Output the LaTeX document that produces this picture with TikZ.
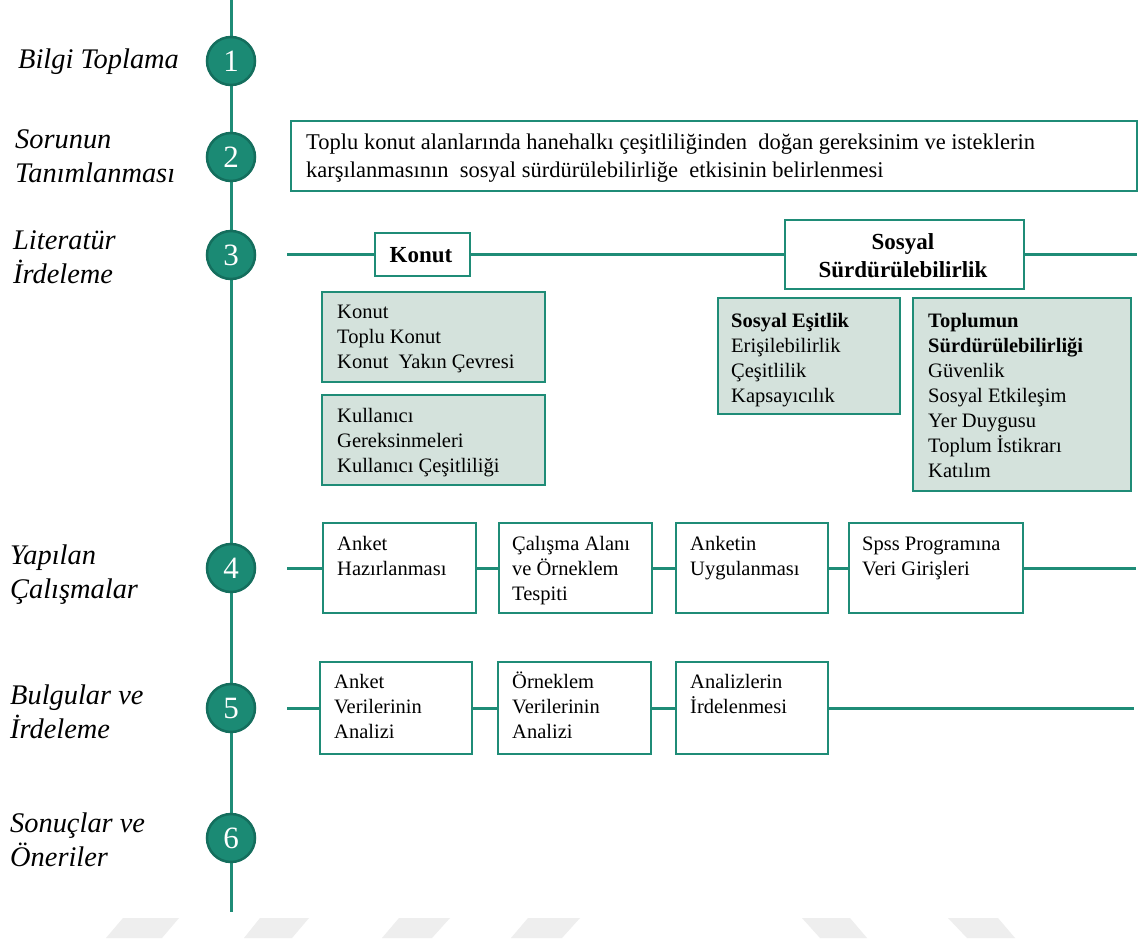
\documentclass[tikz,border=0pt]{standalone}
\usepackage{fontspec}
\setmainfont{Liberation Serif}
\usetikzlibrary{calc}
\definecolor{tl}{HTML}{1F8C77}
\definecolor{cfill}{HTML}{1B8A74}
\definecolor{cbord}{HTML}{146E5D}
\definecolor{gfill}{HTML}{D4E2DC}
\definecolor{wm}{HTML}{EEEEEE}
\newcommand{\mylines}[1]{\begin{tabular}[t]{@{}l@{}}#1\end{tabular}}
\newcommand{\mycentre}[1]{\begin{tabular}[t]{@{}c@{}}#1\end{tabular}}
\begin{document}
\begin{tikzpicture}[x=1pt,y=-1pt,
  tline/.style={draw=tl, line width=3pt},
  stepcircle/.style={circle, fill=cfill, draw=cbord, line width=2.5pt, minimum size=48pt, inner sep=0pt, text=white, font=\fontsize{31}{31}\selectfont},
  phase/.style={anchor=base west, inner sep=0pt, font=\fontsize{28.4}{34}\selectfont\itshape},
  wbox/.style={draw=tl, line width=2pt, fill=white, inner sep=0pt},
  gbox/.style={wbox, fill=gfill},
  btxt/.style={anchor=base west, inner sep=0pt, font=\fontsize{20.5}{25}\selectfont},
  htxt/.style={anchor=base, inner sep=0pt, font=\fontsize{23}{28}\selectfont\bfseries},
  wmark/.style={fill=wm, draw=none},
]
\fill[white] (0,0) rectangle (1141,940);
\useasboundingbox (0,0) rectangle (1141,940);

% watermark strip
\fill[wmark] (106,938) -- (162,938) -- (179,918) -- (123,918) -- cycle;
\fill[wmark] (244,938) -- (292,938) -- (309,918) -- (260,918) -- cycle;
\fill[wmark] (382,938) -- (432,938) -- (450,918) -- (399,918) -- cycle;
\fill[wmark] (511,938) -- (562,938) -- (580,918) -- (528,918) -- cycle;
\fill[wmark] (802,918) -- (850,918) -- (867,938) -- (820,938) -- cycle;
\fill[wmark] (948,918) -- (998,918) -- (1015,938) -- (967,938) -- cycle;

% timeline
\coordinate (vt) at (231,0);
\coordinate (vb) at (231,912);
\draw[tline] (vt) -- (vb);

\node[stepcircle] (c1) at (231,61) {1};
\node[stepcircle] (c2) at (231,157) {2};
\node[stepcircle] (c3) at (231,255) {3};
\node[stepcircle] (c4) at (231,568) {4};
\node[stepcircle] (c5) at (231,708) {5};
\node[stepcircle] (c6) at (231,838) {6};

% phase labels
\node[phase] (l1) at (18,68) {Bilgi Toplama};
\node[phase] (l2) at (15,148) {\mylines{Sorunun\\Tanımlanması}};
\node[phase] (l3) at (13,249) {\mylines{Literatür\\İrdeleme}};
\node[phase] (l4) at (10,564) {\mylines{Yapılan\\Çalışmalar}};
\node[phase] (l5) at (10,704) {\mylines{Bulgular ve\\İrdeleme}};
\node[phase] (l6) at (10,832) {\mylines{Sonuçlar ve\\Öneriler}};

% problem definition
\node[wbox, minimum width=846, minimum height=70] (prob) at (714,156) {};
\node[anchor=base west, inner sep=0pt, font=\fontsize{22.5}{28}\selectfont] (probt) at (306,149)
  {\mylines{Toplu konut alanlarında hanehalkı çeşitliliğinden\ \ doğan gereksinim ve isteklerin\\
   karşılanmasının\ \ sosyal sürdürülebilirliğe\ \ etkisinin belirlenmesi}};

% row 3
\coordinate (r3s) at (287,254);
\coordinate (r3e) at (1137,254);
\node[wbox, minimum width=95, minimum height=43] (konut) at (422,254) {};
\node[wbox, minimum width=239, minimum height=69] (sosyal) at (904,254) {};
\draw[tline] (r3s) -- (konut) -- (sosyal) -- (r3e);
\node[htxt] (konutt) at (421,262) {Konut};
\node[htxt] (sosyalt) at (903,249) {\mycentre{Sosyal\\Sürdürülebilirlik}};

\node[gbox, minimum width=223, minimum height=90] (ga) at (433.5,337) {};
\node[gbox, minimum width=223, minimum height=90] (gb) at (433.5,440) {};
\node[gbox, minimum width=182, minimum height=116] (gc) at (809,356) {};
\node[gbox, minimum width=218, minimum height=193] (gd) at (1022,394.5) {};
\node[btxt] (gat) at (337,318) {\mylines{Konut\\Toplu Konut\\Konut\ \ Yakın Çevresi}};
\node[btxt] (gbt) at (337,422) {\mylines{Kullanıcı\\Gereksinmeleri\\Kullanıcı Çeşitliliği}};
\node[btxt] (gct) at (731,327) {\mylines{\textbf{Sosyal Eşitlik}\\Erişilebilirlik\\Çeşitlilik\\Kapsayıcılık}};
\node[btxt] (gdt) at (928,327) {\mylines{\textbf{Toplumun}\\\textbf{Sürdürülebilirliği}\\Güvenlik\\Sosyal Etkileşim\\Yer Duygusu\\Toplum İstikrarı\\Katılım}};

% row 4
\coordinate (r4s) at (287,568);
\coordinate (r4e) at (1136,568);
\node[wbox, minimum width=153, minimum height=90] (b41) at (399.5,568) {};
\node[wbox, minimum width=153, minimum height=90] (b42) at (575.5,568) {};
\node[wbox, minimum width=152, minimum height=90] (b43) at (752,568) {};
\node[wbox, minimum width=174, minimum height=90] (b44) at (936,568) {};
\draw[tline] (r4s) -- (b41) -- (b42) -- (b43) -- (b44) -- (r4e);
\node[btxt] (t41) at (337,550) {\mylines{Anket\\Hazırlanması}};
\node[btxt] (t42) at (512,550) {\mylines{Çalışma Alanı\\ve Örneklem\\Tespiti}};
\node[btxt] (t43) at (690,550) {\mylines{Anketin\\Uygulanması}};
\node[btxt] (t44) at (862,550) {\mylines{Spss Programına\\Veri Girişleri}};

% row 5
\coordinate (r5s) at (287,708);
\coordinate (r5e) at (1134,708);
\node[wbox, minimum width=152, minimum height=92] (b51) at (396,708) {};
\node[wbox, minimum width=153, minimum height=92] (b52) at (574.5,708) {};
\node[wbox, minimum width=152, minimum height=92] (b53) at (752,708) {};
\draw[tline] (r5s) -- (b51) -- (b52) -- (b53) -- (r5e);
\node[btxt] (t51) at (334,688) {\mylines{Anket\\Verilerinin\\Analizi}};
\node[btxt] (t52) at (512,688) {\mylines{Örneklem\\Verilerinin\\Analizi}};
\node[btxt] (t53) at (690,688) {\mylines{Analizlerin\\İrdelenmesi}};
\end{tikzpicture}
\end{document}
